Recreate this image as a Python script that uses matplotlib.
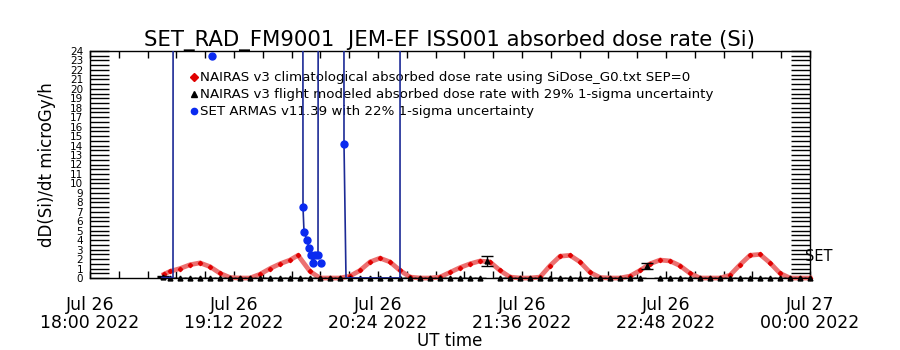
import numpy as np
import matplotlib
matplotlib.use("Agg")
import matplotlib.pyplot as plt

# time axis: minutes after 2022-07-26 18:00 UT
x_ticks = [0, 72, 144, 216, 288, 360]
x_labels = ["Jul 26\n18:00 2022", "Jul 26\n19:12 2022", "Jul 26\n20:24 2022",
            "Jul 26\n21:36 2022", "Jul 26\n22:48 2022", "Jul 27\n00:00 2022"]

# NAIRAS v3 climatological dose rate
clim_t = [37, 40, 45, 50, 55, 60, 65, 70, 75, 80, 85, 90, 95, 100, 104, 110,
          115, 120, 125, 130, 135, 140, 145, 150, 155, 160, 165, 170, 175, 180,
          185, 190, 195, 200, 205, 210, 215, 220, 225, 230, 235, 240, 245, 250,
          255, 260, 265, 270, 275, 280, 285, 290, 295, 300, 305, 310, 315, 320,
          325, 330, 335, 340, 345, 350, 355, 360]
clim_v = [0.4, 0.7, 1.0, 1.4, 1.6, 1.2, 0.5, 0.05, 0.0, 0.0, 0.4, 1.0, 1.5, 1.9, 2.4, 0.7,
          0.0, 0.0, 0.0, 0.2, 0.8, 1.7, 2.1, 1.7, 0.8, 0.1, 0.0, 0.0, 0.1, 0.6,
          1.1, 1.5, 1.8, 1.7, 0.8, 0.1, 0.0, 0.0, 0.1, 1.3, 2.3, 2.4, 1.7, 0.6,
          0.05, 0.0, 0.0, 0.2, 0.8, 1.5, 1.9, 1.8, 1.3, 0.5, 0.0, 0.0, 0.0, 0.3,
          1.4, 2.4, 2.5, 1.6, 0.5, 0.0, 0.0, 0.0]

# NAIRAS v3 flight modeled dose rate (29% 1-sigma)
flight_t = [36.5, 40, 45, 50, 55, 60, 65, 70, 75, 80, 85, 90, 95, 100, 105, 110,
            115, 120, 125, 130, 135, 140, 145, 150, 155, 160, 165, 170, 175, 180,
            185, 190, 195, 198.5, 205, 210, 215, 220, 225, 230, 235, 240, 245, 250,
            255, 260, 265, 270, 275, 278.5, 285, 290, 295, 300, 305, 310, 315, 320,
            325, 330, 335, 340, 345, 350, 355, 360]
flight_v = [0.15, 0.0, 0.0, 0.0, 0.0, 0.0, 0.0, 0.0, 0.0, 0.0, 0.0, 0.0, 0.0, 0.0, 0.0, 0.0,
            0.0, 0.0, 0.0, 0.0, 0.0, 0.0, 0.0, 0.0, 0.0, 0.0, 0.0, 0.0, 0.0, 0.0,
            0.0, 0.0, 0.0, 1.8, 0.0, 0.0, 0.0, 0.0, 0.0, 0.0, 0.0, 0.0, 0.0, 0.0,
            0.0, 0.0, 0.0, 0.0, 0.0, 1.27, 0.0, 0.0, 0.0, 0.0, 0.0, 0.0, 0.0, 0.0,
            0.0, 0.0, 0.0, 0.0, 0.0, 0.0, 0.0, 0.0]
flight_err = 0.29

# SET ARMAS v11.39 measurements (nan = gap, large values run off scale)
armas_t = [36, 38, 40, 41.5, 42, np.nan, 61, np.nan,
           105.8, 106.5, 107, 108.5, 109.5, 110.5, 111.5, 112.5, 114, 115, np.nan,
           115.5, np.nan,
           126.4, 127, 128, 131, 134, 137, 140, 143, 146, 149, 152, 155, 155.3]
armas_v = [0.05, 0.05, 0.05, 0.05, 300, np.nan, 23.5, np.nan,
           300, 7.5, 4.9, 4.0, 3.2, 2.4, 1.6, 2.4, 2.4, 300, np.nan,
           1.6, np.nan,
           300, 14.2, 0.0, 0.0, 0.0, 0.0, 0.0, 0.0, 0.0, 0.0, 0.0, 0.0, 300]

fig = plt.figure(figsize=(9, 3.5), dpi=100)
ax = fig.add_axes([0.1, 0.2057, 0.8, 0.6486])

ax.plot(clim_t, clim_v, color="#ec7070", lw=3.4, zorder=3, clip_on=False)
l1, = ax.plot(clim_t, clim_v, ls="none", marker="D", ms=2.2, color="#e00000",
              zorder=4, clip_on=False,
              label="NAIRAS v3 climatological absorbed dose rate using SiDose_G0.txt SEP=0")

fv = np.array(flight_v)
ax.errorbar(flight_t, fv, yerr=fv * flight_err, fmt="none", ecolor="black",
            elinewidth=1, capsize=4, zorder=5)
l2, = ax.plot(flight_t, fv, ls="none", marker="^", ms=3.5, color="black", zorder=5,
              clip_on=False,
              label="NAIRAS v3 flight modeled absorbed dose rate with 29% 1-sigma uncertainty")

av = np.array(armas_v)
at = np.array(armas_t)
ax.plot(at, av, color="#1c2a96", lw=1.2, zorder=6)
vis = (av > 0.3) & (av < 25)
l3, = ax.plot(at[vis], av[vis], ls="none", marker="o", ms=5, color="#0a2af0", zorder=7,
              label="SET ARMAS v11.39 with 22% 1-sigma uncertainty")

ax.set_xlim(0, 360)
ax.set_ylim(0, 24)
ax.set_xticks(x_ticks)
ax.set_xticklabels(x_labels, fontsize=12.5, linespacing=1.0)
ax.set_xticks(np.arange(0, 361, 14.4), minor=True)
ax.set_yticks(range(0, 25))
ax.set_yticklabels([str(i) for i in range(0, 25)], fontsize=7.5)
ax.set_yticks(np.arange(0, 24.1, 0.5), minor=True)
ax.tick_params(axis="x", which="both", direction="in", top=True, length=5, width=1, pad=13)
ax.tick_params(axis="y", which="both", direction="in", right=True, length=14, width=1, pad=5)
ax.tick_params(axis="y", which="major", labelright=False)
for s in ax.spines.values():
    s.set_linewidth(1)

ax.set_xlabel("UT time", fontsize=12, labelpad=0)
ax.set_ylabel("dD(Si)/dt microGy/h", fontsize=12, labelpad=10)
ax.set_title("SET_RAD_FM9001  JEM-EF ISS001 absorbed dose rate (Si)", fontsize=15.3, pad=3)

leg = ax.legend(handles=[l1, l2, l3], loc="upper left", bbox_to_anchor=(0.14, 0.91),
                frameon=False, fontsize=9.6, handlelength=0.5, handletextpad=0.2,
                borderpad=0, borderaxespad=0, labelspacing=0.3)
for h in leg.legend_handles:
    h.set_markersize(4.5)
ax.text(0.993, 0.093, "SET", transform=ax.transAxes, fontsize=10.5, va="center", ha="left")

fig.savefig("out.png", dpi=100)
